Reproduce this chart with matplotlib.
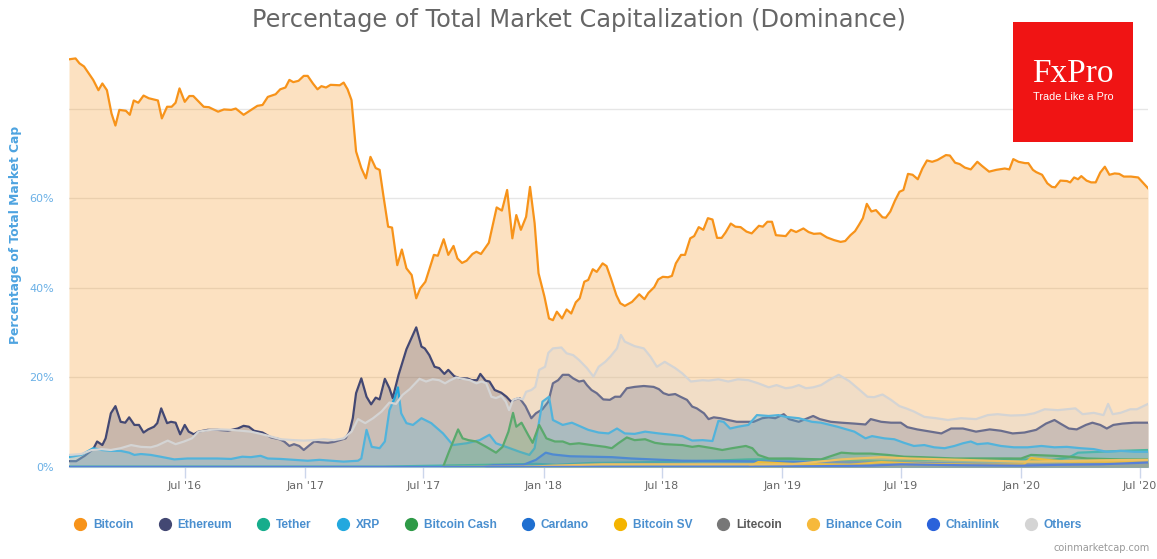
import matplotlib
matplotlib.use("Agg")
import matplotlib.pyplot as plt
import matplotlib.dates as mdates
from matplotlib.lines import Line2D
from matplotlib.patches import Rectangle
import pandas as pd

# Dominance (% of total market cap)
btc_dates = ["2016-01-06", "2016-01-16", "2016-01-22", "2016-01-29", "2016-02-12", "2016-02-20", "2016-02-26",
             "2016-03-04", "2016-03-11", "2016-03-17", "2016-03-23", "2016-04-02", "2016-04-08", "2016-04-14",
             "2016-04-21", "2016-04-29", "2016-05-07", "2016-05-21", "2016-05-27", "2016-06-04", "2016-06-11",
             "2016-06-17", "2016-06-23", "2016-07-01", "2016-07-08", "2016-07-14", "2016-07-30", "2016-08-07",
             "2016-08-21", "2016-08-30", "2016-09-10", "2016-09-17", "2016-09-29", "2016-10-20", "2016-10-28",
             "2016-11-05", "2016-11-17", "2016-11-24", "2016-12-02", "2016-12-08", "2016-12-14", "2016-12-22",
             "2016-12-30", "2017-01-05", "2017-01-13", "2017-01-20", "2017-01-26", "2017-02-02", "2017-02-09",
             "2017-02-23", "2017-03-01", "2017-03-07", "2017-03-13", "2017-03-20", "2017-03-28", "2017-04-04",
             "2017-04-11", "2017-04-19", "2017-04-25", "2017-05-01", "2017-05-08", "2017-05-14", "2017-05-22",
             "2017-05-29", "2017-06-05", "2017-06-13", "2017-06-20", "2017-06-26", "2017-07-04", "2017-07-17",
             "2017-07-23", "2017-08-01", "2017-08-08", "2017-08-16", "2017-08-22", "2017-08-29", "2017-09-05",
             "2017-09-14", "2017-09-20", "2017-09-27", "2017-10-09", "2017-10-21", "2017-10-29", "2017-11-06",
             "2017-11-14", "2017-11-20", "2017-11-27", "2017-12-05", "2017-12-11", "2017-12-18", "2017-12-24",
             "2018-01-02", "2018-01-09", "2018-01-15", "2018-01-21", "2018-01-29", "2018-02-05", "2018-02-12",
             "2018-02-19", "2018-02-25", "2018-03-04", "2018-03-10", "2018-03-17", "2018-03-23", "2018-04-01",
             "2018-04-07", "2018-04-14", "2018-04-22", "2018-04-28", "2018-05-05", "2018-05-16", "2018-05-27",
             "2018-06-04", "2018-06-10", "2018-06-19", "2018-06-25", "2018-07-02", "2018-07-10", "2018-07-16",
             "2018-07-22", "2018-07-30", "2018-08-05", "2018-08-13", "2018-08-19", "2018-08-26", "2018-09-02",
             "2018-09-09", "2018-09-16", "2018-09-23", "2018-09-30", "2018-10-06", "2018-10-14", "2018-10-21",
             "2018-10-29", "2018-11-07", "2018-11-15", "2018-11-26", "2018-12-02", "2018-12-09", "2018-12-16",
             "2018-12-22", "2019-01-06", "2019-01-14", "2019-01-22", "2019-02-02", "2019-02-10", "2019-02-18",
             "2019-02-28", "2019-03-10", "2019-03-21", "2019-03-31", "2019-04-07", "2019-04-15", "2019-04-22",
             "2019-04-28", "2019-05-04", "2019-05-10", "2019-05-17", "2019-05-24", "2019-06-03", "2019-06-08",
             "2019-06-15", "2019-06-22", "2019-06-29", "2019-07-05", "2019-07-12", "2019-07-19", "2019-07-27",
             "2019-08-03", "2019-08-10", "2019-08-18", "2019-08-26", "2019-09-08", "2019-09-14", "2019-09-22",
             "2019-09-29", "2019-10-07", "2019-10-16", "2019-10-26", "2019-11-02", "2019-11-13", "2019-11-24",
             "2019-12-07", "2019-12-14", "2019-12-20", "2019-12-28", "2020-01-07", "2020-01-12", "2020-01-19",
             "2020-01-24", "2020-02-02", "2020-02-10", "2020-02-17", "2020-02-22", "2020-03-01", "2020-03-11",
             "2020-03-16", "2020-03-22", "2020-03-28", "2020-04-02", "2020-04-10", "2020-04-17", "2020-04-24",
             "2020-05-01", "2020-05-08", "2020-05-15", "2020-05-23", "2020-05-30", "2020-06-06", "2020-06-17",
             "2020-06-28", "2020-07-13"]
btc_vals = [91.1, 91.3, 90.2, 89.5, 86.5, 84.2, 85.7, 84.2, 79.0, 76.3, 79.8, 79.6, 78.7, 81.9, 81.4, 83.0, 82.4,
            81.9, 77.9, 80.5, 80.5, 81.4, 84.6, 81.6, 82.9, 82.9, 80.5, 80.4, 79.4, 79.9, 79.8, 80.1, 78.7, 80.7,
            80.9, 82.7, 83.3, 84.4, 84.8, 86.5, 86.0, 86.3, 87.4, 87.4, 85.7, 84.4, 85.1, 84.8, 85.4, 85.3, 85.9,
            84.4, 82.0, 70.5, 66.8, 64.5, 69.3, 66.8, 66.4, 60.4, 53.7, 53.5, 45.1, 48.6, 44.4, 42.9, 37.7, 39.9,
            41.4, 47.4, 47.2, 50.9, 47.4, 49.4, 46.6, 45.6, 46.1, 47.6, 48.1, 47.6, 50.1, 58.0, 57.3, 61.9, 51.1,
            56.3, 53.0, 55.9, 62.6, 54.5, 43.3, 38.1, 33.2, 32.8, 34.7, 33.2, 35.2, 34.3, 36.8, 37.7, 41.4, 41.8,
            44.2, 43.6, 45.5, 44.9, 42.0, 38.4, 36.6, 36.0, 36.9, 38.6, 37.5, 38.9, 40.2, 41.9, 42.5, 42.4, 42.7,
            45.5, 47.4, 47.4, 51.1, 51.6, 53.6, 53.0, 55.6, 55.3, 51.2, 51.2, 52.4, 54.4, 53.7, 53.6, 52.6, 52.2,
            53.9, 53.7, 54.8, 54.8, 51.8, 51.6, 53.0, 52.5, 53.3, 52.5, 52.1, 52.2, 51.3, 50.7, 50.3, 50.5, 51.8,
            52.7, 54.1, 55.6, 58.8, 57.1, 57.4, 55.8, 55.7, 57.1, 59.5, 61.5, 61.9, 65.5, 65.3, 64.3, 66.7, 68.5,
            68.2, 68.6, 69.7, 69.6, 68.0, 67.7, 66.9, 66.5, 68.2, 67.3, 66.0, 66.4, 66.7, 66.5, 68.8, 68.2, 67.9,
            67.9, 66.4, 65.9, 65.3, 63.4, 62.6, 62.5, 64.0, 63.9, 63.6, 64.7, 64.3, 65.0, 64.0, 63.6, 63.6, 65.8,
            67.1, 65.3, 65.6, 65.5, 64.9, 64.9, 64.7, 62.3]

eth_dates = ["2016-01-06", "2016-01-17", "2016-01-30", "2016-02-12", "2016-02-18", "2016-02-26", "2016-03-02",
             "2016-03-10", "2016-03-17", "2016-03-25", "2016-04-01", "2016-04-07", "2016-04-15", "2016-04-22",
             "2016-04-29", "2016-05-06", "2016-05-15", "2016-05-20", "2016-05-26", "2016-06-04", "2016-06-10",
             "2016-06-17", "2016-06-24", "2016-07-01", "2016-07-07", "2016-07-15", "2016-07-22", "2016-08-05",
             "2016-08-20", "2016-09-05", "2016-09-20", "2016-09-29", "2016-10-07", "2016-10-15", "2016-10-28",
             "2016-11-10", "2016-11-23", "2016-11-30", "2016-12-08", "2016-12-15", "2016-12-23", "2016-12-30",
             "2017-01-08", "2017-01-15", "2017-01-25", "2017-02-05", "2017-02-14", "2017-02-23", "2017-03-04",
             "2017-03-10", "2017-03-15", "2017-03-20", "2017-03-28", "2017-04-05", "2017-04-12", "2017-04-19",
             "2017-04-25", "2017-05-03", "2017-05-10", "2017-05-15", "2017-05-24", "2017-06-05", "2017-06-20",
             "2017-06-28", "2017-07-03", "2017-07-10", "2017-07-18", "2017-07-25", "2017-08-02", "2017-08-08",
             "2017-08-17", "2017-08-26", "2017-09-06", "2017-09-13", "2017-09-21", "2017-09-26", "2017-10-04",
             "2017-10-10", "2017-10-18", "2017-10-28", "2017-11-05", "2017-11-12", "2017-11-18", "2017-11-25",
             "2017-12-04", "2017-12-13", "2017-12-20", "2017-12-30", "2018-01-08", "2018-01-15", "2018-01-23",
             "2018-01-30", "2018-02-08", "2018-02-15", "2018-02-24", "2018-03-03", "2018-03-08", "2018-03-15",
             "2018-03-23", "2018-04-02", "2018-04-12", "2018-04-20", "2018-04-28", "2018-05-08", "2018-05-20",
             "2018-06-03", "2018-06-18", "2018-06-26", "2018-07-03", "2018-07-11", "2018-07-21", "2018-07-29",
             "2018-08-08", "2018-08-16", "2018-08-23", "2018-09-03", "2018-09-10", "2018-09-18", "2018-09-28",
             "2018-10-10", "2018-10-23", "2018-11-18", "2018-12-01", "2018-12-11", "2018-12-21", "2019-01-03",
             "2019-01-11", "2019-01-26", "2019-02-17", "2019-02-27", "2019-03-16", "2019-04-01", "2019-04-21",
             "2019-05-08", "2019-05-16", "2019-06-01", "2019-06-16", "2019-07-01", "2019-07-11", "2019-07-26",
             "2019-08-16", "2019-09-01", "2019-09-16", "2019-10-04", "2019-10-24", "2019-11-14", "2019-12-01",
             "2019-12-19", "2020-01-06", "2020-01-24", "2020-02-08", "2020-02-21", "2020-03-01", "2020-03-14",
             "2020-03-26", "2020-04-09", "2020-04-19", "2020-05-01", "2020-05-11", "2020-05-21", "2020-06-04",
             "2020-06-22", "2020-07-13"]
eth_vals = [1.3, 1.3, 2.5, 4.0, 5.7, 4.9, 6.4, 12.0, 13.6, 10.1, 9.9, 11.1, 9.4, 9.4, 7.7, 8.4, 9.0, 9.8, 13.1,
            9.8, 10.1, 9.9, 7.3, 9.4, 7.9, 7.3, 7.9, 8.3, 8.3, 8.1, 8.6, 9.2, 9.0, 8.1, 7.7, 6.6, 6.2, 5.7, 4.7,
            5.1, 4.7, 3.8, 4.9, 5.7, 5.5, 5.4, 5.6, 6.0, 6.4, 7.9, 10.9, 16.5, 19.8, 15.7, 14.0, 15.5, 15.1,
            19.7, 17.6, 15.4, 20.6, 26.3, 31.2, 26.9, 26.5, 25.0, 22.4, 22.1, 20.8, 21.7, 20.3, 19.8, 19.8, 19.4,
            19.4, 20.8, 19.3, 19.1, 17.2, 16.6, 15.7, 14.6, 15.1, 15.4, 13.6, 10.9, 12.0, 12.9, 14.6, 18.7, 19.4,
            20.6, 20.6, 19.8, 19.1, 19.3, 18.3, 17.2, 16.5, 15.1, 15.0, 15.7, 15.7, 17.6, 17.9, 18.1, 17.9, 17.4,
            16.5, 16.1, 16.3, 15.7, 15.0, 13.5, 13.1, 12.0, 10.7, 11.1, 10.9, 10.5, 10.1, 10.1, 10.9, 11.1, 10.9,
            11.8, 10.7, 10.1, 11.4, 10.7, 10.1, 9.9, 9.7, 9.5, 10.7, 10.1, 9.9, 9.9, 8.9, 8.4, 7.9, 7.5, 8.6, 8.6,
            7.9, 8.4, 8.1, 7.5, 7.7, 8.3, 9.7, 10.5, 9.7, 8.6, 8.4, 9.4, 9.9, 9.4, 8.6, 9.4, 9.7, 9.9, 9.9]

usdt_dates = ["2016-01-06", "2016-12-01", "2017-05-01", "2017-09-01", "2017-11-15", "2017-12-20", "2018-01-20",
              "2018-03-15", "2018-05-15", "2018-07-15", "2018-09-15", "2018-11-10", "2019-01-15", "2019-04-15",
              "2019-06-15", "2019-08-15", "2019-10-15", "2019-12-15", "2020-02-15", "2020-03-15", "2020-03-28",
              "2020-05-01", "2020-06-01", "2020-07-13"]
usdt_vals = [0.1, 0.1, 0.1, 0.4, 0.6, 0.7, 0.5, 0.9, 1.0, 1.2, 1.4, 1.7, 1.8, 1.5, 1.3, 1.6, 1.8, 1.8, 1.5, 2.2,
             3.2, 3.4, 3.6, 3.8]

xrp_dates = ["2016-01-06", "2016-01-25", "2016-02-12", "2016-02-25", "2016-03-10", "2016-03-25", "2016-04-07",
             "2016-04-15", "2016-04-25", "2016-05-10", "2016-05-25", "2016-06-15", "2016-07-05", "2016-07-25",
             "2016-08-20", "2016-09-10", "2016-09-27", "2016-10-10", "2016-10-25", "2016-11-05", "2016-11-25",
             "2016-12-15", "2017-01-05", "2017-01-23", "2017-02-10", "2017-03-01", "2017-03-23", "2017-03-28",
             "2017-04-05", "2017-04-13", "2017-04-25", "2017-05-03", "2017-05-10", "2017-05-18", "2017-05-23",
             "2017-05-28", "2017-06-05", "2017-06-15", "2017-06-28", "2017-07-13", "2017-07-31", "2017-08-15",
             "2017-09-05", "2017-09-25", "2017-10-10", "2017-10-20", "2017-11-10", "2017-11-25", "2017-12-10",
             "2017-12-18", "2017-12-30", "2018-01-09", "2018-01-15", "2018-01-30", "2018-02-13", "2018-02-24",
             "2018-03-10", "2018-03-26", "2018-04-10", "2018-04-23", "2018-05-05", "2018-05-20", "2018-06-05",
             "2018-06-26", "2018-07-16", "2018-08-01", "2018-08-16", "2018-09-01", "2018-09-16", "2018-09-25",
             "2018-10-03", "2018-10-13", "2018-10-25", "2018-11-10", "2018-11-23", "2018-12-11", "2018-12-26",
             "2019-01-06", "2019-01-26", "2019-02-15", "2019-03-01", "2019-03-26", "2019-04-21", "2019-05-08",
             "2019-05-18", "2019-06-06", "2019-06-21", "2019-07-06", "2019-07-21", "2019-08-06", "2019-08-21",
             "2019-09-06", "2019-09-21", "2019-10-04", "2019-10-16", "2019-10-26", "2019-11-11", "2019-12-01",
             "2019-12-21", "2020-01-11", "2020-02-01", "2020-02-21", "2020-03-11", "2020-04-01", "2020-04-21",
             "2020-05-11", "2020-06-01", "2020-06-22", "2020-07-13"]
xrp_vals = [2.2, 2.7, 4.2, 3.8, 3.6, 3.6, 3.2, 2.7, 2.9, 2.7, 2.3, 1.7, 1.9, 1.9, 1.9, 1.8, 2.3, 2.2, 2.5, 1.9,
            1.8, 1.6, 1.4, 1.6, 1.4, 1.2, 1.4, 1.9, 8.3, 4.5, 4.2, 5.7, 12.7, 15.4, 17.8, 12.0, 9.8, 9.4, 10.9,
            9.8, 7.5, 4.9, 5.3, 6.0, 7.2, 5.3, 4.2, 3.4, 2.7, 4.2, 14.6, 15.7, 10.5, 9.4, 9.9, 9.2, 8.3, 7.7,
            7.5, 8.6, 7.5, 7.4, 7.9, 7.5, 7.2, 6.9, 5.9, 6.0, 5.8, 10.3, 10.1, 8.6, 9.0, 9.4, 11.6, 11.4, 11.6,
            11.2, 10.9, 10.1, 9.9, 9.0, 7.9, 6.4, 6.9, 6.4, 6.2, 5.4, 4.7, 4.9, 4.4, 4.2, 4.7, 5.3, 5.7, 5.1,
            5.3, 4.7, 4.4, 4.4, 4.7, 4.4, 4.5, 4.2, 4.0, 3.4, 3.6, 3.4, 3.4]

bch_dates = ["2017-07-31", "2017-08-09", "2017-08-23", "2017-08-30", "2017-09-08", "2017-09-20", "2017-10-05",
             "2017-10-20", "2017-10-30", "2017-11-08", "2017-11-15", "2017-11-20", "2017-11-28", "2017-12-08",
             "2017-12-15", "2017-12-25", "2018-01-05", "2018-01-18", "2018-01-30", "2018-02-10", "2018-02-24",
             "2018-03-15", "2018-04-05", "2018-04-15", "2018-04-25", "2018-05-08", "2018-05-20", "2018-06-05",
             "2018-06-20", "2018-07-05", "2018-08-01", "2018-08-16", "2018-08-26", "2018-09-16", "2018-10-01",
             "2018-10-16", "2018-11-06", "2018-11-16", "2018-11-25", "2018-12-11", "2019-01-11", "2019-03-01",
             "2019-04-01", "2019-04-21", "2019-05-16", "2019-06-11", "2019-07-06", "2019-08-01", "2019-09-21",
             "2019-11-11", "2020-01-01", "2020-01-16", "2020-02-21", "2020-03-16", "2020-04-11", "2020-06-01",
             "2020-07-13"]
bch_vals = [0.0, 3.4, 8.4, 6.4, 6.0, 5.7, 4.5, 3.2, 4.5, 7.9, 12.1, 9.0, 9.9, 7.2, 5.4, 9.4, 6.4, 5.7, 5.7, 5.1,
            5.3, 4.9, 4.5, 4.2, 5.3, 6.6, 6.0, 6.2, 5.4, 5.1, 4.9, 4.5, 4.7, 4.2, 3.8, 4.2, 4.7, 4.2, 2.7, 1.9,
            1.9, 1.7, 3.2, 3.0, 3.0, 2.7, 2.3, 2.2, 1.9, 1.9, 1.9, 2.7, 2.5, 2.3, 1.9, 1.7, 1.7]

ada_dates = ["2017-10-01", "2017-10-15", "2017-12-01", "2017-12-20", "2018-01-04", "2018-01-15", "2018-02-10",
             "2018-04-15", "2018-05-15", "2018-08-01", "2018-11-01", "2019-03-01", "2019-07-01", "2019-11-01",
             "2020-03-01", "2020-05-15", "2020-07-13"]
ada_vals = [0.0, 0.4, 0.5, 1.6, 3.2, 2.8, 2.4, 2.2, 1.9, 1.4, 1.3, 1.1, 1.0, 0.7, 0.6, 0.9, 1.3]

bsv_dates = ["2018-11-10", "2018-11-25", "2019-01-15", "2019-04-15", "2019-06-01", "2019-08-01", "2019-11-01",
             "2020-01-05", "2020-01-16", "2020-02-15", "2020-03-15", "2020-05-01", "2020-07-13"]
bsv_vals = [0.0, 1.1, 0.7, 0.5, 1.1, 0.7, 0.5, 0.6, 2.0, 1.5, 1.2, 1.2, 1.0]

bnb_dates = ["2017-08-01", "2017-12-15", "2018-01-15", "2018-04-01", "2018-07-01", "2018-11-01", "2019-01-15",
             "2019-04-01", "2019-06-01", "2019-07-15", "2019-10-01", "2020-01-01", "2020-03-01", "2020-05-01",
             "2020-07-13"]
bnb_vals = [0.0, 0.1, 0.3, 0.6, 0.6, 0.6, 0.6, 1.7, 2.2, 1.9, 1.6, 1.2, 1.3, 1.5, 1.6]

link_dates = ["2016-01-06", "2017-09-20", "2018-12-01", "2019-05-15", "2019-07-01", "2019-10-01", "2020-01-01",
              "2020-03-01", "2020-05-01", "2020-07-13"]
link_vals = [0.0, 0.0, 0.05, 0.3, 0.6, 0.4, 0.3, 0.5, 0.6, 1.0]

oth_dates = ["2016-01-06", "2016-01-25", "2016-02-10", "2016-02-25", "2016-03-10", "2016-03-25", "2016-04-10",
             "2016-04-25", "2016-05-10", "2016-05-20", "2016-06-05", "2016-06-17", "2016-06-30", "2016-07-12",
             "2016-07-22", "2016-08-10", "2016-08-25", "2016-09-10", "2016-09-25", "2016-10-10", "2016-10-25",
             "2016-11-10", "2016-11-25", "2016-12-15", "2016-12-30", "2017-01-15", "2017-01-30", "2017-02-14",
             "2017-03-01", "2017-03-13", "2017-03-23", "2017-04-03", "2017-04-15", "2017-04-28", "2017-05-10",
             "2017-05-20", "2017-05-30", "2017-06-10", "2017-06-25", "2017-07-05", "2017-07-15", "2017-07-25",
             "2017-08-03", "2017-08-10", "2017-08-20", "2017-08-30", "2017-09-10", "2017-09-20", "2017-09-28",
             "2017-10-05", "2017-10-13", "2017-10-20", "2017-10-28", "2017-11-04", "2017-11-09", "2017-11-15",
             "2017-11-23", "2017-11-30", "2017-12-05", "2017-12-13", "2017-12-19", "2017-12-25", "2018-01-03",
             "2018-01-08", "2018-01-15", "2018-01-28", "2018-02-05", "2018-02-15", "2018-02-24", "2018-03-08",
             "2018-03-18", "2018-03-26", "2018-04-05", "2018-04-13", "2018-04-23", "2018-04-29", "2018-05-05",
             "2018-05-20", "2018-06-03", "2018-06-13", "2018-06-23", "2018-07-05", "2018-07-21", "2018-08-01",
             "2018-08-14", "2018-09-01", "2018-09-10", "2018-09-25", "2018-10-10", "2018-10-25", "2018-11-10",
             "2018-11-25", "2018-12-11", "2018-12-23", "2019-01-06", "2019-01-16", "2019-01-26", "2019-02-06",
             "2019-02-17", "2019-03-01", "2019-03-13", "2019-03-28", "2019-04-13", "2019-04-26", "2019-05-11",
             "2019-05-21", "2019-06-03", "2019-06-16", "2019-06-29", "2019-07-09", "2019-07-21", "2019-08-06",
             "2019-08-24", "2019-09-11", "2019-10-01", "2019-10-24", "2019-11-11", "2019-11-26", "2019-12-16",
             "2020-01-06", "2020-01-21", "2020-02-06", "2020-02-26", "2020-03-11", "2020-03-24", "2020-04-04",
             "2020-04-21", "2020-05-06", "2020-05-13", "2020-05-20", "2020-06-01", "2020-06-16", "2020-06-26",
             "2020-07-13"]
oth_vals = [2.7, 2.9, 3.8, 4.0, 3.8, 4.2, 4.9, 4.5, 4.4, 4.8, 5.9, 5.1, 5.7, 6.4, 7.9, 8.3, 8.4, 8.3, 8.1, 7.9,
            7.4, 6.8, 6.2, 6.0, 5.9, 6.0, 6.2, 6.0, 6.4, 7.9, 10.7, 9.8, 10.9, 12.4, 14.4, 14.1, 16.1, 17.4, 19.7,
            19.1, 19.6, 19.4, 18.7, 19.3, 20.0, 19.7, 19.4, 18.7, 19.1, 18.7, 15.7, 15.4, 15.9, 14.6, 12.7, 15.0,
            15.4, 15.1, 16.8, 17.2, 17.9, 21.7, 22.4, 25.5, 26.5, 26.7, 25.4, 25.0, 23.9, 22.1, 20.2, 22.4, 23.5,
            24.7, 26.5, 29.5, 28.0, 27.0, 26.5, 24.7, 22.4, 23.5, 22.1, 20.9, 19.1, 19.4, 19.3, 19.6, 19.1, 19.6,
            19.4, 18.7, 17.8, 18.3, 17.6, 17.8, 18.3, 17.6, 17.8, 18.3, 19.4, 20.6, 19.2, 17.6, 15.7, 15.6, 16.2,
            15.0, 13.6, 13.1, 12.4, 11.2, 10.9, 10.5, 10.9, 10.7, 11.6, 11.8, 11.5, 11.6, 12.0, 12.9, 12.7, 12.9,
            13.1, 11.8, 12.1, 11.6, 14.1, 11.8, 12.1, 12.9, 12.9, 14.1]

# Litecoin is switched off in the source chart: legend entry only
series = [
    ("Bitcoin", btc_dates, btc_vals, "#F7931A"),
    ("Ethereum", eth_dates, eth_vals, "#434873"),
    ("Tether", usdt_dates, usdt_vals, "#17AD8C"),
    ("XRP", xrp_dates, xrp_vals, "#23A8DE"),
    ("Bitcoin Cash", bch_dates, bch_vals, "#2E9A47"),
    ("Cardano", ada_dates, ada_vals, "#1F6FD0"),
    ("Bitcoin SV", bsv_dates, bsv_vals, "#F4B400"),
    ("Litecoin", None, None, "#777777"),
    ("Binance Coin", bnb_dates, bnb_vals, "#F6B93B"),
    ("Chainlink", link_dates, link_vals, "#2A62DA"),
    ("Others", oth_dates, oth_vals, "#D4D4D4"),
]

W, H = 1157, 559
fig = plt.figure(figsize=(W / 100, H / 100), dpi=100)
ax = fig.add_axes([69 / W, 92 / H, 1079 / W, 422 / H])

for i, (name, d, v, c) in enumerate(series):
    if d is None:
        continue
    t = pd.to_datetime(d)
    ax.fill_between(t, 0, v, color=c, alpha=0.27, linewidth=0, zorder=2 + i)
    ax.plot(t, v, color=c, linewidth=1.6, zorder=2.5 + i, solid_joinstyle="round")

ax.set_xlim(pd.Timestamp("2016-01-06"), pd.Timestamp("2020-07-13"))
ax.set_ylim(0, 94.3)

ax.set_yticks([0, 20, 40, 60, 80])
ax.set_yticklabels(["0%", "20%", "40%", "60%", ""])
ax.grid(axis="y", color="#E6E6E6", linewidth=1)
ax.set_axisbelow(True)
ax.tick_params(axis="y", length=0, pad=11, labelsize=8, labelcolor="#6AB0E6")

ax.xaxis.set_major_locator(mdates.MonthLocator(bymonth=[1, 7]))
ax.xaxis.set_major_formatter(mdates.DateFormatter("%b '%y"))
ax.tick_params(axis="x", length=8, width=1, color="#CCD6EB", pad=2, labelsize=8, labelcolor="#666666")

for s in ["top", "right", "left"]:
    ax.spines[s].set_visible(False)
ax.spines["bottom"].set_color("#CCD6EB")

ax.set_ylabel("Percentage of Total Market Cap", fontsize=8.8, fontweight="bold", color="#4DA3E0")
ax.yaxis.set_label_coords(-0.044, 0.55)

fig.text(0.5, 1 - 20 / H, "Percentage of Total Market Capitalization (Dominance)", ha="center", va="center",
         fontsize=17.3, color="#666666")

handles = [Line2D([], [], marker="o", linestyle="none", markersize=8.5, markerfacecolor=c, markeredgecolor=c)
           for _, _, _, c in series]
labels = [name for name, _, _, _ in series]
label_colors = ["#5A5A5A" if n == "Litecoin" else "#4A8FCF" for n in labels]
fig.legend(handles, labels, loc="center", bbox_to_anchor=(0.5, 34 / H), ncol=len(series), frameon=False,
           handlelength=0.9, handletextpad=0.63, columnspacing=2.15, borderpad=0,
           prop={"family": "Liberation Sans", "weight": "bold", "size": 8.6}, labelcolor=label_colors)

fig.text(1150 / W, 1 - 548 / H, "coinmarketcap.com", ha="right", va="center", fontsize=7, color="#999999")

# FxPro badge
fig.add_artist(Rectangle((1013 / W, 1 - 142 / H), 120 / W, 120 / H, transform=fig.transFigure,
                         facecolor="#F01414", edgecolor="none", zorder=10))
fig.text(1073 / W, 1 - 74 / H, "FxPro", ha="center", va="center", fontsize=24, color="white",
         family="Liberation Serif", zorder=11)
fig.text(1073 / W, 1 - 97 / H, "Trade Like a Pro", ha="center", va="center", fontsize=7.8, color="white",
         family="Liberation Sans", zorder=11)

fig.savefig("out.png", dpi=100)
